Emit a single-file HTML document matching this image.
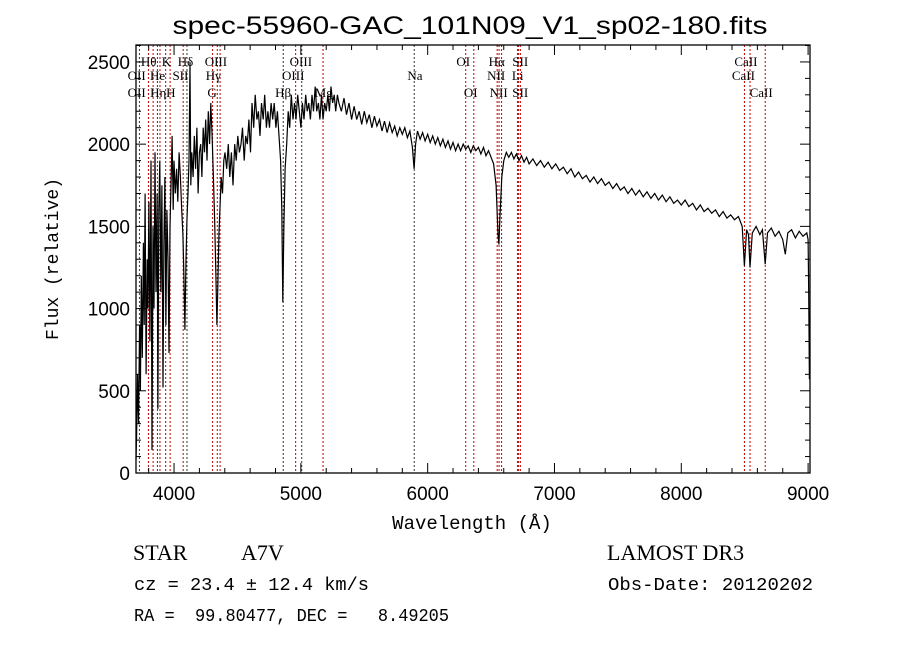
<!DOCTYPE html>
<html><head><meta charset="utf-8">
<style>
html,body{margin:0;padding:0;background:#fff;}
svg{display:block;font-family:"Liberation Mono",monospace;}
</style></head>
<body>
<svg id="chart" width="900" height="649" viewBox="0 0 900 649" xmlns="http://www.w3.org/2000/svg">
<rect x="0" y="0" width="900" height="649" fill="#fff"/>
<text x="470" y="34" text-anchor="middle" font-size="25" textLength="595" lengthAdjust="spacingAndGlyphs" font-family="Liberation Sans, sans-serif">spec-55960-GAC_101N09_V1_sp02-180.fits</text>
<g id="lines"></g>
<g id="spec"></g>
<g id="axes"></g>
<text x="472" y="529" text-anchor="middle" font-size="19">Wavelength (Å)</text>
<text transform="translate(58,259) rotate(-90)" text-anchor="middle" font-size="18">Flux (relative)</text>
<text x="133" y="560" font-size="22" font-family="Liberation Serif, serif">STAR</text>
<text x="241" y="560" font-size="22" font-family="Liberation Serif, serif">A7V</text>
<text x="607" y="560" font-size="22" font-family="Liberation Serif, serif">LAMOST DR3</text>
<text x="134" y="590" font-size="18" textLength="235" lengthAdjust="spacingAndGlyphs">cz = 23.4 ± 12.4 km/s</text>
<text x="608" y="590" font-size="18" textLength="205" lengthAdjust="spacingAndGlyphs">Obs-Date: 20120202</text>
<text x="134" y="621" font-size="18" xml:space="preserve" textLength="315" lengthAdjust="spacingAndGlyphs">RA =  99.80477, DEC =   8.49205</text>
</svg>
<script>
const waves=[3700,3705,3712,3720,3728,3735,3742,3750,3758,3765,3772,3780,3788,3795,3802,3810,3818,3826,3834,3842,3850,3858,3866,3873,3880,3888,3896,3904,3913,3920,3928,3936,3944,3952,3960,3968,3976,3985,3993,4000,4010,4020,4030,4040,4050,4060,4070,4078,4086,4094,4102,4110,4118,4126,4132,4140,4150,4160,4170,4180,4190,4200,4210,4220,4230,4240,4250,4260,4270,4280,4290,4300,4310,4320,4330,4338,4346,4354,4362,4372,4382,4392,4402,4415,4428,4440,4452,4465,4478,4490,4503,4515,4528,4540,4553,4565,4578,4590,4603,4615,4628,4640,4653,4665,4678,4690,4703,4715,4728,4740,4753,4765,4778,4790,4803,4815,4828,4840,4850,4858,4866,4876,4888,4900,4912,4925,4938,4950,4962,4975,4988,5000,5012,5025,5038,5050,5063,5075,5088,5100,5113,5125,5138,5150,5163,5175,5188,5200,5213,5225,5238,5250,5263,5275,5288,5300,5320,5340,5360,5380,5400,5420,5440,5460,5480,5500,5520,5540,5560,5580,5600,5620,5640,5660,5680,5700,5720,5740,5760,5780,5800,5820,5840,5860,5880,5893,5905,5920,5940,5960,5980,6000,6020,6040,6060,6080,6100,6120,6140,6160,6180,6200,6220,6240,6260,6280,6300,6320,6340,6360,6380,6400,6420,6440,6460,6480,6500,6520,6540,6555,6562,6570,6585,6600,6620,6640,6660,6680,6700,6720,6740,6760,6780,6800,6830,6860,6890,6920,6950,6980,7010,7040,7070,7100,7130,7160,7190,7220,7250,7280,7310,7340,7370,7400,7430,7460,7490,7520,7550,7580,7610,7640,7670,7700,7730,7760,7790,7820,7850,7880,7910,7940,7970,8000,8030,8060,8090,8120,8150,8180,8210,8240,8270,8300,8330,8360,8390,8420,8450,8480,8498,8515,8530,8542,8560,8590,8620,8640,8662,8680,8710,8740,8770,8800,8820,8840,8870,8900,8930,8960,8990,9000,9005,9010];
const flux=[80,230,600,300,900,500,1200,700,1400,900,1700,600,1300,1000,1650,800,1900,140,1500,1000,1950,1100,1700,390,1600,1900,1100,1750,520,1400,1800,900,1600,1300,730,1500,1750,2050,1600,1900,1700,1850,1650,1950,1800,1600,1450,1200,870,1300,1550,1700,1900,2500,1750,1950,1800,2050,1850,2100,1700,1950,2000,1800,2100,1950,2150,1900,2200,2000,2250,2050,1800,1550,1200,900,1150,1450,1600,1800,1700,1900,1950,1850,2000,1800,1950,1750,2000,1900,2050,1950,2000,2100,1900,2050,2000,2150,1950,2250,2100,2300,2150,2200,2050,2250,2150,2300,2100,2200,2100,2250,2150,2250,2100,2200,2050,1900,1600,1040,1500,1850,2000,2200,2100,2300,2150,2250,2150,2300,2200,2100,2250,2150,2300,2200,2250,2150,2300,2200,2350,2200,2250,2150,2300,2150,2250,2200,2300,2200,2350,2250,2300,2200,2300,2250,2200,2280,2180,2250,2150,2230,2150,2200,2120,2200,2130,2180,2100,2170,2110,2150,2080,2140,2070,2130,2070,2110,2050,2100,2060,2100,2040,2080,1980,1850,2000,2080,2030,2070,2020,2060,2010,2050,2000,2040,1990,2030,1980,2020,1970,2010,1960,2000,1960,2000,1970,1990,1950,1990,1960,1980,1940,1980,1930,1960,1920,1880,1750,1450,1390,1550,1800,1900,1950,1920,1950,1910,1940,1900,1930,1890,1920,1880,1910,1870,1900,1860,1890,1850,1880,1840,1860,1820,1850,1800,1830,1790,1810,1770,1800,1760,1790,1750,1770,1730,1760,1720,1740,1700,1730,1690,1720,1680,1710,1670,1700,1660,1690,1650,1680,1640,1660,1630,1660,1620,1640,1600,1630,1590,1610,1580,1600,1560,1590,1550,1570,1540,1560,1500,1260,1480,1450,1250,1460,1500,1450,1480,1270,1460,1490,1440,1470,1420,1330,1460,1480,1430,1470,1440,1460,1420,1100,570];
const lineWaves=[3727,3798,3835,3869,3889,3934,3969,4072,4102,4304,4341,4363,4861,4959,5007,5175,5894,6300,6364,6548,6563,6583,6708,6717,6731,8498,8542,8662];
const lineColors=["r","r","r","r","r","r","r","r","k","r","r","r","k","r","k","r","k","r","r","r","r","r","r","r","r","r","r","r"];
const labelText=["Hθ","OII","OII","He","Hη","K","H","Hδ","SII","OIII","Hγ","G","Hβ","OIII","OIII","Mg","Na","OI","OI","Hα","SII","NII","Li","NII","SII","CaII","CaII","CaII"];
const labelWave=[3800,3705,3705,3870,3875,3940,3975,4090,4050,4330,4310,4300,4860,5000,4940,5180,5900,6280,6340,6545,6730,6540,6710,6560,6730,8510,8490,8630];
const labelRow=[1,2,3,2,3,1,3,1,2,1,2,3,3,1,2,3,2,1,3,1,1,2,2,3,3,1,2,3];
const xTicks=[4000,5000,6000,7000,8000,9000];
const yTicks=[0,500,1000,1500,2000,2500];
const NS="http://www.w3.org/2000/svg";
const L=136,R=810,T=45,B=473;
const X0=3700,X1=9015,Y0=0,Y1=2603;
function sx(w){return L+(w-X0)/(X1-X0)*(R-L);}
function sy(f){return B-(f-Y0)/(Y1-Y0)*(B-T);}
function mk(tag,attrs,parent){const e=document.createElementNS(NS,tag);for(const k in attrs)e.setAttribute(k,attrs[k]);parent.appendChild(e);return e;}
const gl=document.getElementById('lines');
lineWaves.forEach((w,i)=>{
  const l=mk('line',{x1:sx(w),x2:sx(w),y1:T,y2:B,stroke:lineColors[i]==="r"?"#c00000":"#333","stroke-width":1,"stroke-dasharray":"2,2"},gl);
  
  
});
const rowY=[0,66,80,97];
labelText.forEach((t,i)=>{
  const tx=mk('text',{x:sx(labelWave[i]),y:rowY[labelRow[i]],"text-anchor":"middle","font-size":13,"font-family":"Liberation Serif, serif"},gl);
  tx.textContent=t;
  
  
});
const gs=document.getElementById('spec');
const pts=waves.map((w,i)=>sx(w).toFixed(1)+","+sy(flux[i]).toFixed(1)).join(" ");
const pl=mk('polyline',{points:pts,fill:"none",stroke:"#000","stroke-width":1.2,"stroke-linejoin":"miter"},gs);


const ga=document.getElementById('axes');
const fr=mk('rect',{x:L,y:T,width:R-L,height:B-T,fill:"none",stroke:"#000","stroke-width":1.3},ga);


for(let w=3800;w<=9000;w+=200){
  const major=w%1000===0, len=major?10:5;
  mk('line',{x1:sx(w),x2:sx(w),y1:B,y2:B-len,stroke:"#000"},ga);
  mk('line',{x1:sx(w),x2:sx(w),y1:T,y2:T+len,stroke:"#000"},ga);
}
for(let f=100;f<=2600;f+=100){
  const major=f%500===0, len=major?10:5;
  mk('line',{x1:L,x2:L+len,y1:sy(f),y2:sy(f),stroke:"#000"},ga);
  mk('line',{x1:R,x2:R-len,y1:sy(f),y2:sy(f),stroke:"#000"},ga);
}
xTicks.forEach(v=>{
  const t=mk('text',{x:sx(v),y:B+27,"text-anchor":"middle","font-size":19,"font-family":"Liberation Sans, sans-serif"},ga);
  t.textContent=v;
  
  
});
yTicks.forEach(v=>{
  const t=mk('text',{x:L-6,y:sy(v)+7,"text-anchor":"end","font-size":19,"font-family":"Liberation Sans, sans-serif"},ga);
  t.textContent=v;
  
  
});
</script>
</body></html>
